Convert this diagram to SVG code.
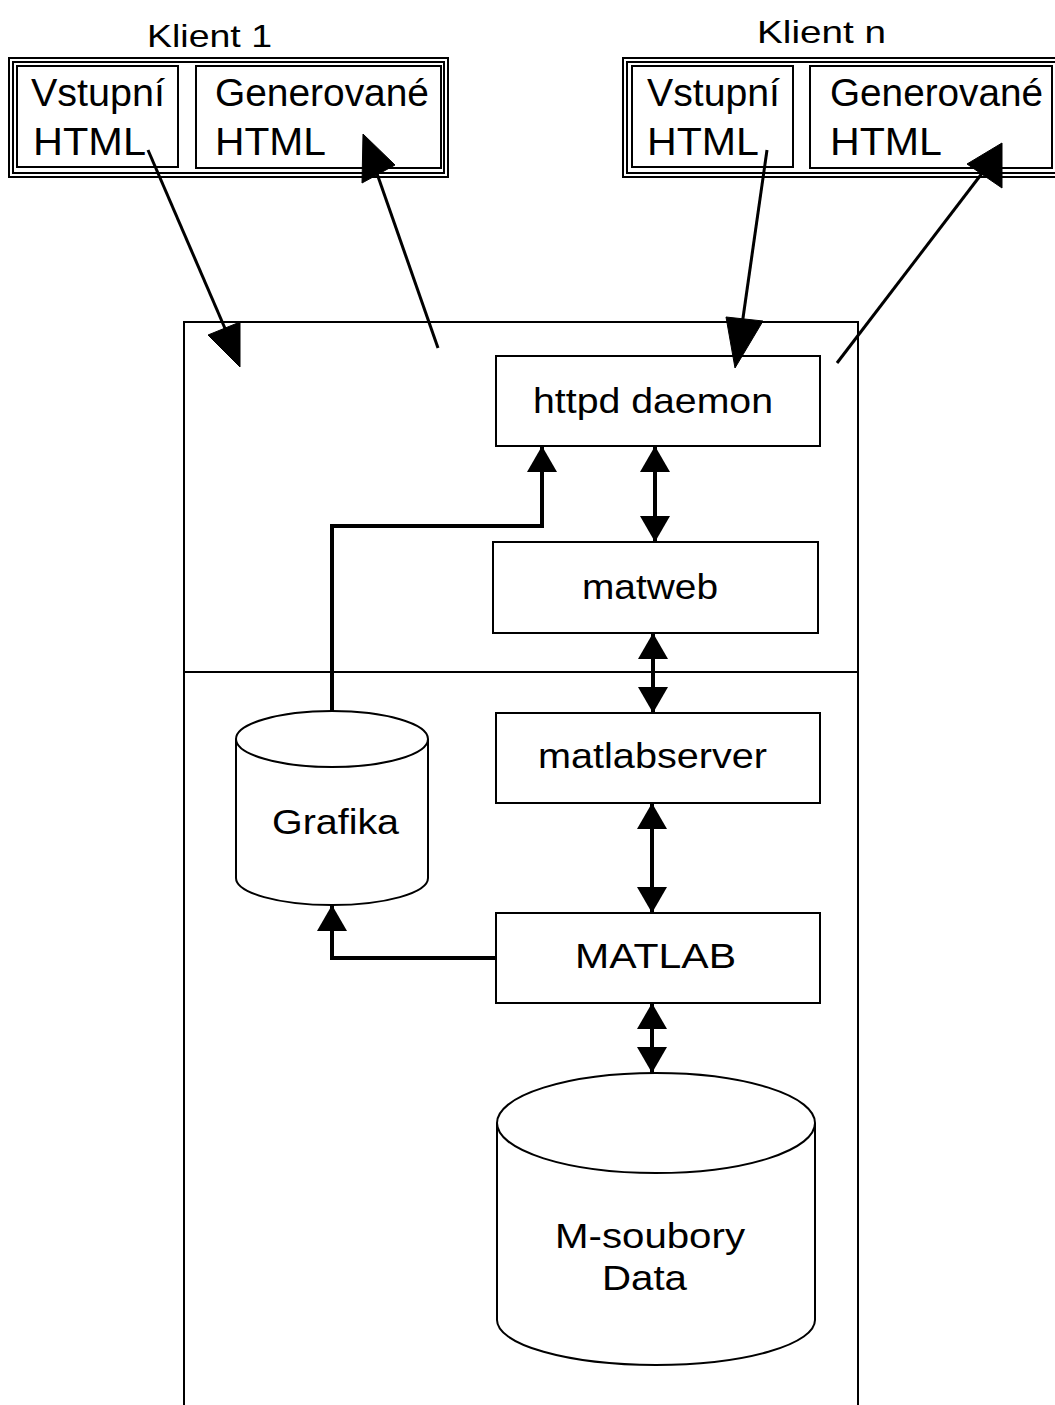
<svg xmlns="http://www.w3.org/2000/svg" width="1055" height="1405" viewBox="0 0 1055 1405">
<style>
  .box{fill:#fff;stroke:#000;stroke-width:2}
  .frame{fill:none;stroke:#000;stroke-width:2}
  .t{font-family:"Liberation Sans",Arial,sans-serif;fill:#000}
  .lbl{font-size:38px}
  .ttl{font-size:32px}
  .nd{font-size:35px}
  .con{fill:none;stroke:#000;stroke-width:4}
  .thin{fill:none;stroke:#000;stroke-width:3}
  .head{fill:#000;stroke:#000;stroke-width:1}
</style>
<defs>
  <marker id="ah" markerUnits="userSpaceOnUse" viewBox="0 0 26 30" refX="26" refY="15" markerWidth="26" markerHeight="30" orient="auto-start-reverse">
    <path d="M0,0 L26,15 L0,30 z" fill="#000"/>
  </marker>
</defs>

<g id="server">
  <path class="frame" d="M184,1410 V322 H858 V1410"/>
  <line class="frame" x1="184" y1="672" x2="858" y2="672"/>
</g>

<g id="klient1">
  <rect class="frame" x="9" y="58" width="439" height="119"/>
  <rect class="frame" x="13" y="62" width="431" height="111"/>
  <text class="t ttl" x="147" y="47" textLength="125" lengthAdjust="spacingAndGlyphs">Klient 1</text>
  <g id="k1-vstup">
    <rect class="box" x="17" y="66" width="161" height="101"/>
    <text class="t lbl" x="31" y="106" textLength="134" lengthAdjust="spacingAndGlyphs">Vstupní</text>
    <text class="t lbl" x="33" y="155" textLength="113" lengthAdjust="spacingAndGlyphs">HTML</text>
  </g>
  <g id="k1-gen">
    <rect class="box" x="196" y="66" width="245" height="102"/>
    <text class="t lbl" x="215" y="106" textLength="214" lengthAdjust="spacingAndGlyphs">Generované</text>
    <text class="t lbl" x="215" y="155" textLength="111" lengthAdjust="spacingAndGlyphs">HTML</text>
  </g>
</g>

<g id="klientn">
  <rect class="frame" x="623" y="58" width="439" height="119"/>
  <rect class="frame" x="627" y="62" width="431" height="111"/>
  <text class="t ttl" x="757" y="43" textLength="129" lengthAdjust="spacingAndGlyphs">Klient n</text>
  <g id="kn-vstup">
    <rect class="box" x="632" y="66" width="161" height="101"/>
    <text class="t lbl" x="647" y="106" textLength="133" lengthAdjust="spacingAndGlyphs">Vstupní</text>
    <text class="t lbl" x="647" y="155" textLength="112" lengthAdjust="spacingAndGlyphs">HTML</text>
  </g>
  <g id="kn-gen">
    <rect class="box" x="810" y="66" width="242" height="102"/>
    <text class="t lbl" x="830" y="106" textLength="213" lengthAdjust="spacingAndGlyphs">Generované</text>
    <text class="t lbl" x="830" y="155" textLength="112" lengthAdjust="spacingAndGlyphs">HTML</text>
  </g>
</g>

<g id="httpd">
  <rect class="box" x="496" y="356" width="324" height="90"/>
  <text class="t nd" x="533" y="413" textLength="240" lengthAdjust="spacingAndGlyphs">httpd daemon</text>
</g>
<g id="matweb">
  <rect class="box" x="493" y="542" width="325" height="91"/>
  <text class="t nd" x="582" y="599" textLength="136" lengthAdjust="spacingAndGlyphs">matweb</text>
</g>
<g id="matlabserver">
  <rect class="box" x="496" y="713" width="324" height="90"/>
  <text class="t nd" x="538" y="768" textLength="229" lengthAdjust="spacingAndGlyphs">matlabserver</text>
</g>
<g id="matlab">
  <rect class="box" x="496" y="913" width="324" height="90"/>
  <text class="t nd" x="575" y="968" textLength="161" lengthAdjust="spacingAndGlyphs">MATLAB</text>
</g>
<g id="grafika">
  <path class="box" d="M236,739 V878 A96,27 0 0 0 428,878 V739"/>
  <ellipse class="box" cx="332" cy="739" rx="96" ry="28"/>
  <text class="t nd" x="272" y="834" textLength="127" lengthAdjust="spacingAndGlyphs">Grafika</text>
</g>
<g id="msoubory">
  <path class="box" d="M497,1123 V1320 A159,45 0 0 0 815,1320 V1123"/>
  <ellipse class="box" cx="656" cy="1123" rx="159" ry="50"/>
  <text class="t nd" x="555" y="1248" textLength="190" lengthAdjust="spacingAndGlyphs">M-soubory</text>
  <text class="t nd" x="602" y="1290" textLength="85" lengthAdjust="spacingAndGlyphs">Data</text>
</g>

<g id="connectors">
  <polyline class="con" points="332,711 332,526 542,526 542,446" marker-end="url(#ah)"/>
  <line class="con" x1="655" y1="446" x2="655" y2="542" marker-start="url(#ah)" marker-end="url(#ah)"/>
  <line class="con" x1="653" y1="633" x2="653" y2="713" marker-start="url(#ah)" marker-end="url(#ah)"/>
  <line class="con" x1="652" y1="803" x2="652" y2="913" marker-start="url(#ah)" marker-end="url(#ah)"/>
  <line class="con" x1="652" y1="1003" x2="652" y2="1073" marker-start="url(#ah)" marker-end="url(#ah)"/>
  <polyline class="con" points="496,958 332,958 332,905" marker-end="url(#ah)"/>

  <line class="thin" x1="148" y1="150" x2="230" y2="340"/>
  <polygon class="head" points="208,335 240,322 240,367"/>
  <line class="thin" x1="438" y1="348" x2="374" y2="165"/>
  <polygon class="head" points="363,134 395,165 362,183"/>
  <line class="thin" x1="767" y1="150" x2="742" y2="325"/>
  <polygon class="head" points="726,317 763,321 735,368"/>
  <line class="thin" x1="837" y1="363" x2="983" y2="172"/>
  <polygon class="head" points="1002,143 967,164 1002,188"/>
</g>
</svg>
